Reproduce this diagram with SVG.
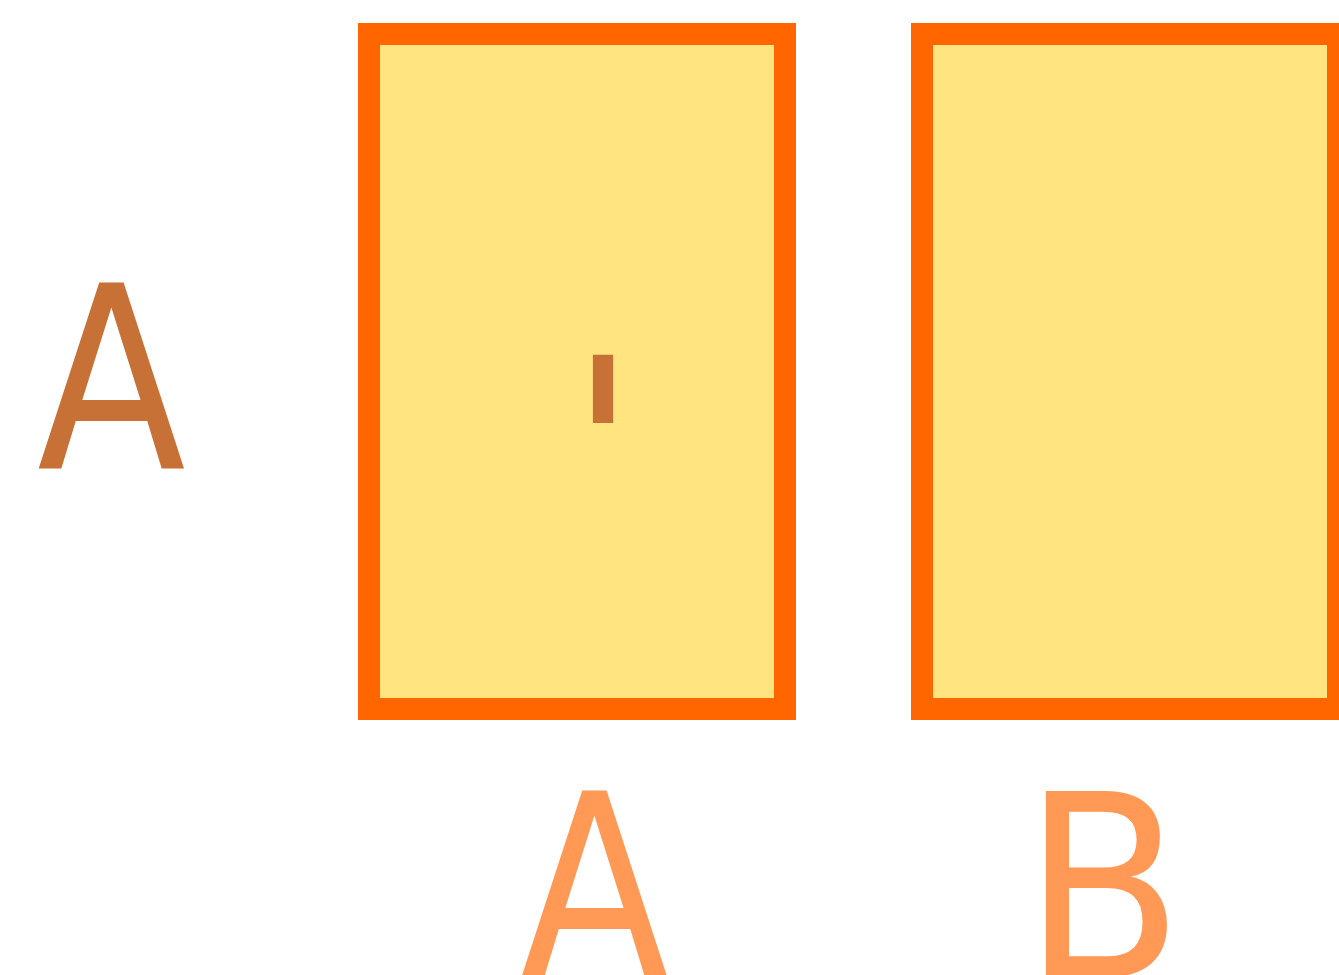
<svg xmlns="http://www.w3.org/2000/svg" width="1339" height="975" viewBox="0 0 1339 975">
<style>
.box{fill:#FFE480;stroke:#FF6600;stroke-width:22}
.t{font-family:"DejaVu Sans",sans-serif;font-size:255px;text-anchor:middle}
.dark{fill:#C87137}
.light{fill:#FF9955}
</style>
<rect width="1339" height="975" fill="#FFFFFF"/>
<g id="label-left"><text class="t dark" transform="translate(111.5,469) scale(0.853,1)">A</text></g>
<g id="node-a">
<rect class="box" x="369" y="34" width="416" height="675"/>
<text class="t dark" style="font-size:251px" transform="translate(603,538) scale(0.97,1)">'</text>
</g>
<g id="node-b">
<rect class="box" x="922" y="34" width="416" height="675"/>
</g>
<g id="label-a"><text class="t light" transform="translate(594.5,977) scale(0.853,1)">A</text></g>
<g id="label-b"><text class="t light" transform="translate(1103.3,977) scale(0.917,1)">B</text></g>
<g id="connectors"></g>
</svg>
